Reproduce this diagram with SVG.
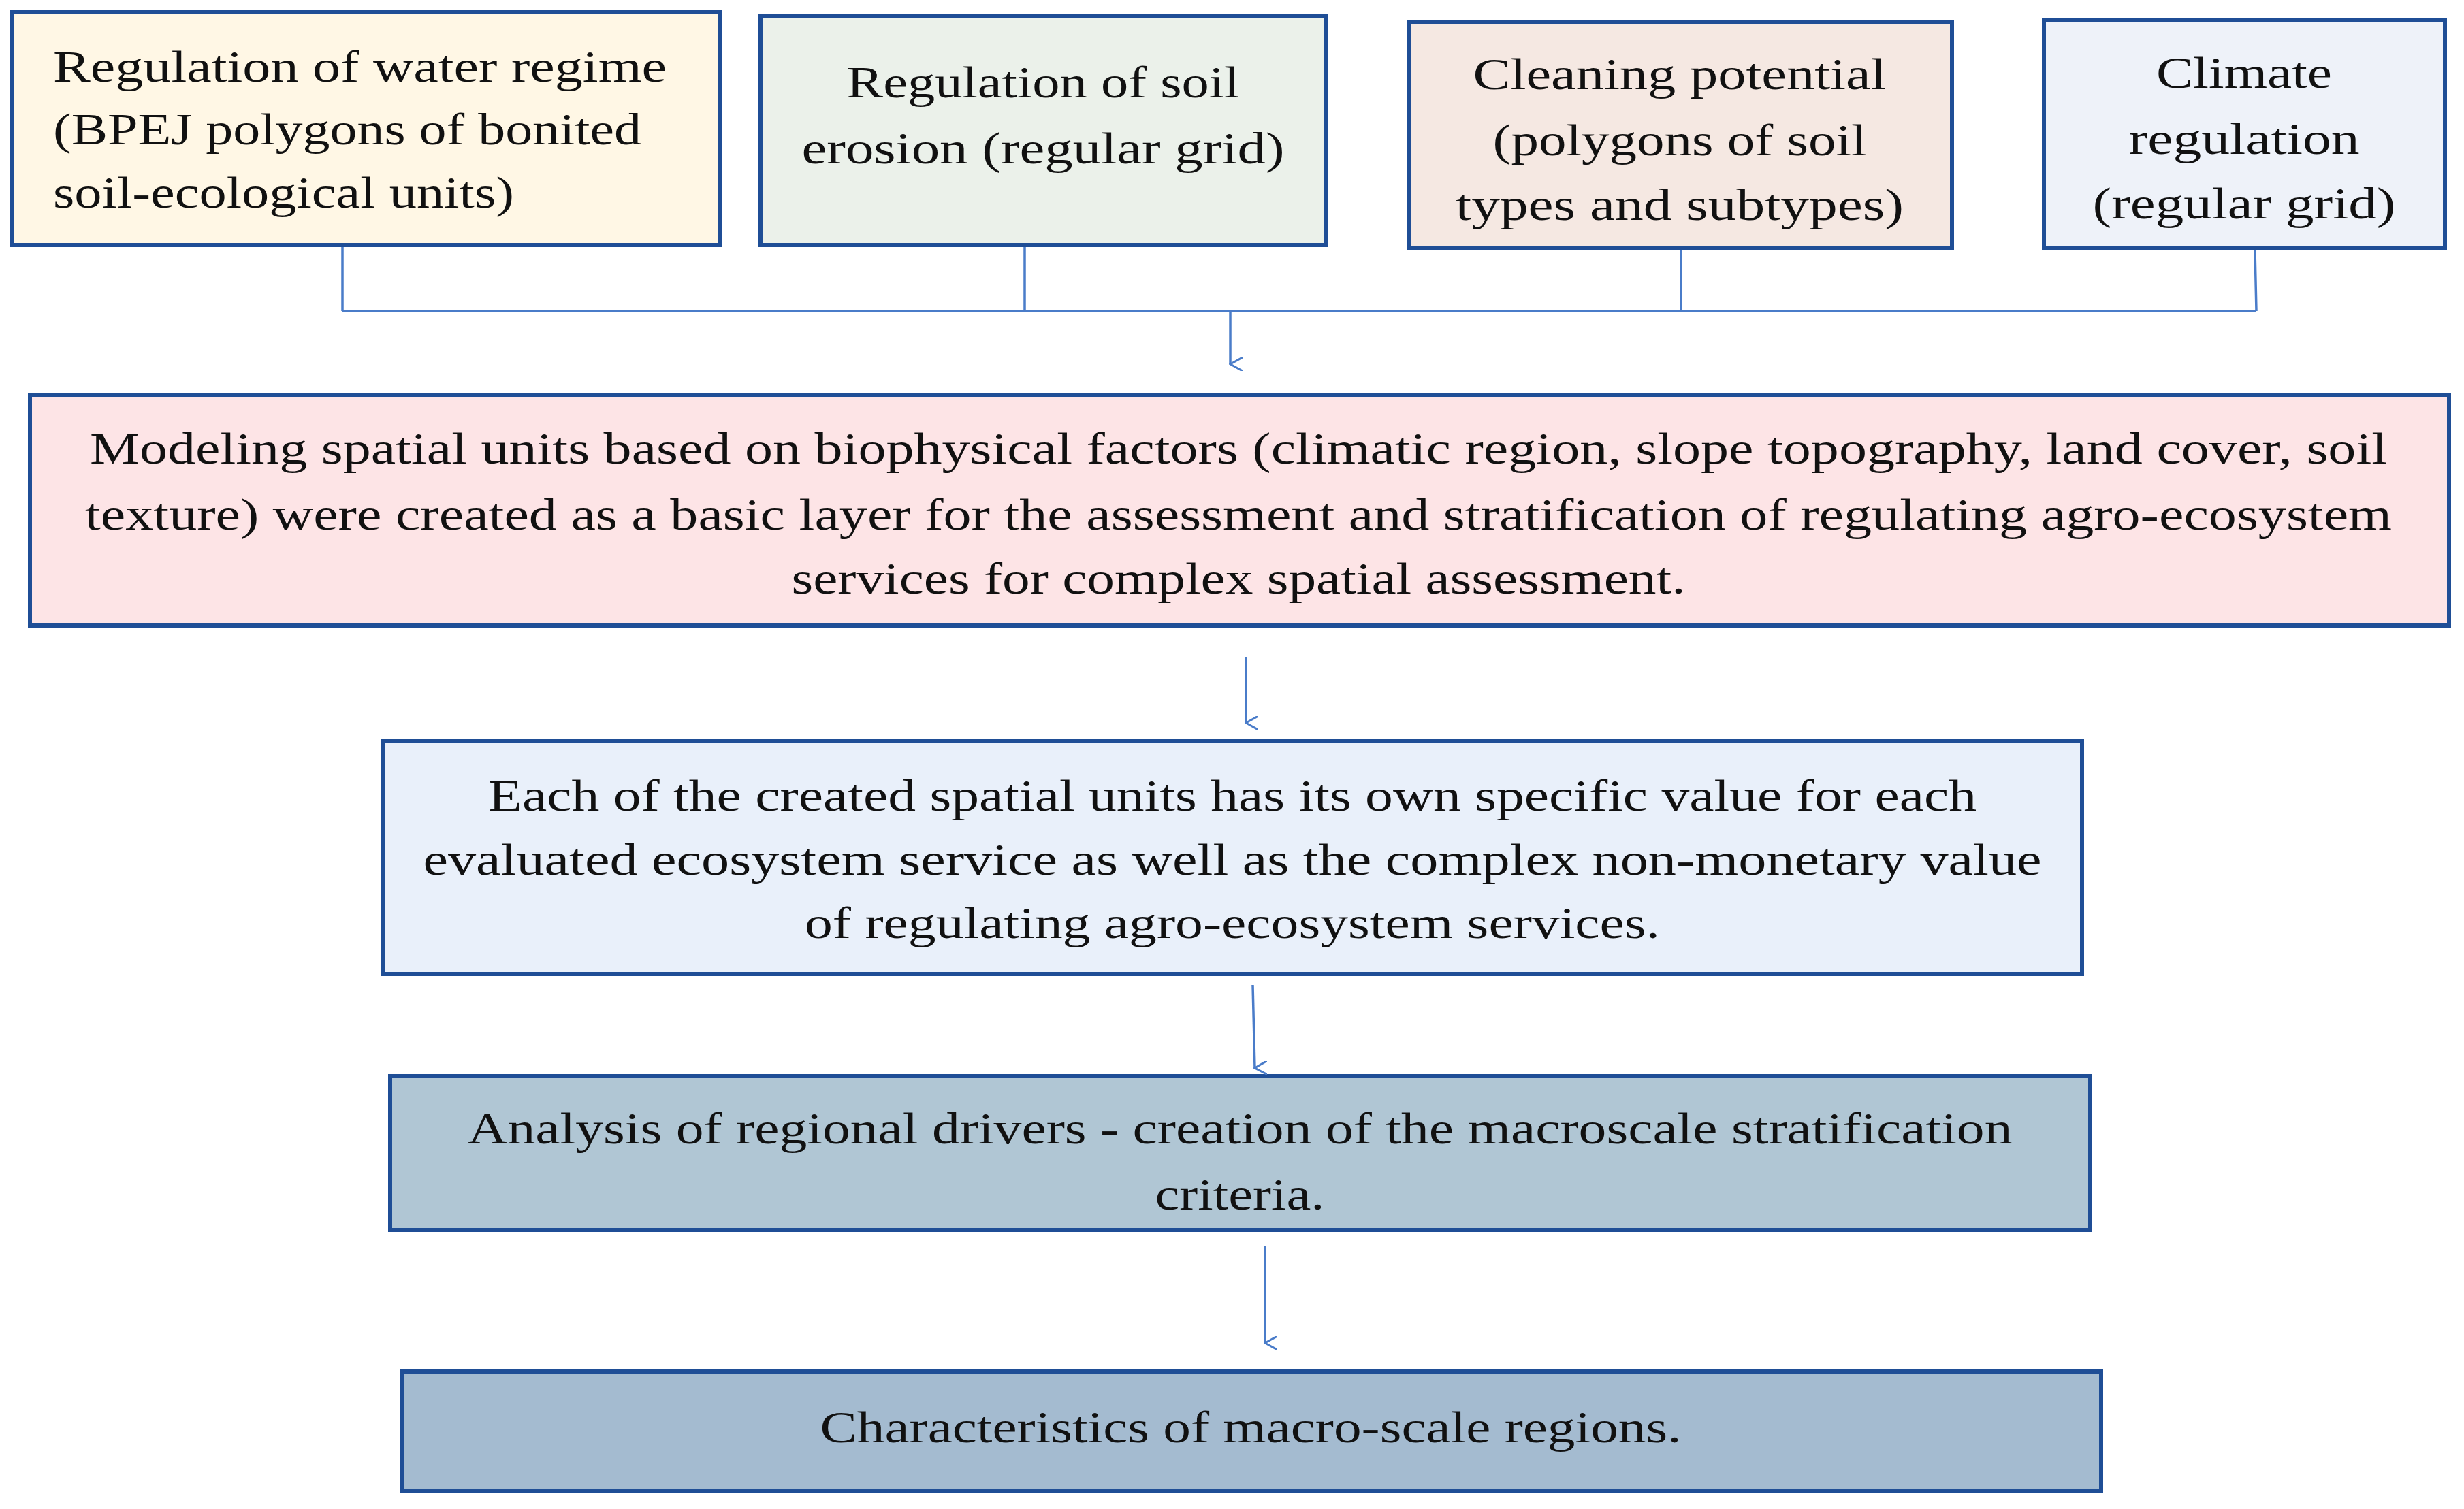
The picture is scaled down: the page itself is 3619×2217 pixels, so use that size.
<svg xmlns="http://www.w3.org/2000/svg" width="3619" height="2217" viewBox="0 0 3619 2217">
<style>
text{font-family:"Liberation Serif","DejaVu Serif",serif;font-size:66px;fill:#111;dominant-baseline:central}
.c{text-anchor:middle}
rect{stroke:#1F4E96;stroke-width:6}
.ln{stroke:#4A7CC9;stroke-width:3.5;fill:none}
</style>
<defs><marker id="a" viewBox="0 0 20 20" refX="10" refY="18" markerWidth="20" markerHeight="20" markerUnits="userSpaceOnUse" orient="auto-start-reverse"><path d="M0,0 L10,18 L20,0" fill="none" stroke="#4A7CC9" stroke-width="3"/></marker></defs>
<rect x="0" y="0" width="3619" height="2217" fill="#fff" style="stroke:none"/>
<g id="n1"><rect x="18" y="18" width="1039" height="342" fill="#FFF7E5"/>
<text x="78" y="97" textLength="901" lengthAdjust="spacingAndGlyphs">Regulation of water regime</text>
<text x="78" y="189" textLength="864" lengthAdjust="spacingAndGlyphs">(BPEJ polygons of bonited</text>
<text x="78" y="282" textLength="677" lengthAdjust="spacingAndGlyphs">soil-ecological units)</text></g>
<g id="n2"><rect x="1117" y="23" width="831" height="337" fill="#EBF1EA"/>
<text class="c" x="1532" y="120" textLength="577" lengthAdjust="spacingAndGlyphs">Regulation of soil</text>
<text class="c" x="1532" y="217" textLength="709" lengthAdjust="spacingAndGlyphs">erosion (regular grid)</text></g>
<g id="n3"><rect x="2070" y="32" width="797" height="333" fill="#F5E8E2"/>
<text class="c" x="2467" y="108" textLength="607" lengthAdjust="spacingAndGlyphs">Cleaning potential</text>
<text class="c" x="2467" y="205" textLength="549" lengthAdjust="spacingAndGlyphs">(polygons of soil</text>
<text class="c" x="2467" y="300" textLength="658" lengthAdjust="spacingAndGlyphs">types and subtypes)</text></g>
<g id="n4"><rect x="3002" y="30" width="589" height="335" fill="#EEF2F9"/>
<text class="c" x="3296" y="106" textLength="258" lengthAdjust="spacingAndGlyphs">Climate</text>
<text class="c" x="3296" y="203" textLength="339" lengthAdjust="spacingAndGlyphs">regulation</text>
<text class="c" x="3296" y="298" textLength="445" lengthAdjust="spacingAndGlyphs">(regular grid)</text></g>
<g id="n5"><rect x="44" y="580" width="3553" height="339" fill="#FDE4E6"/>
<text class="c" x="1819" y="658" textLength="3374" lengthAdjust="spacingAndGlyphs">Modeling spatial units based on biophysical factors (climatic region, slope topography, land cover, soil</text>
<text class="c" x="1819" y="755" textLength="3388" lengthAdjust="spacingAndGlyphs">texture) were created as a basic layer for the assessment and stratification of regulating agro-ecosystem</text>
<text class="c" x="1819" y="849" textLength="1313" lengthAdjust="spacingAndGlyphs">services for complex spatial assessment.</text></g>
<g id="n6"><rect x="563" y="1089" width="2495" height="342" fill="#E9F0FA"/>
<text class="c" x="1810" y="1168" textLength="2186" lengthAdjust="spacingAndGlyphs">Each of the created spatial units has its own specific value for each</text>
<text class="c" x="1810" y="1262" textLength="2377" lengthAdjust="spacingAndGlyphs">evaluated ecosystem service as well as the complex non-monetary value</text>
<text class="c" x="1810" y="1355" textLength="1256" lengthAdjust="spacingAndGlyphs">of regulating agro-ecosystem services.</text></g>
<g id="n7"><rect x="573" y="1581" width="2497" height="226" fill="#B0C6D4"/>
<text class="c" x="1821" y="1657" textLength="2269" lengthAdjust="spacingAndGlyphs">Analysis of regional drivers - creation of the macroscale stratification</text>
<text class="c" x="1821" y="1754" textLength="249" lengthAdjust="spacingAndGlyphs">criteria.</text></g>
<g id="n8"><rect x="591" y="2015" width="2495" height="175" fill="#A4BBD0"/>
<text class="c" x="1837" y="2096" textLength="1265" lengthAdjust="spacingAndGlyphs">Characteristics of macro-scale regions.</text></g>
<g id="connectors">
<path class="ln" d="M503,363 V457 M1505,363 V457 M2469,368 V457 M3312,368 L3314,457 M503,457 H3314"/>
<path class="ln" d="M1807,457 V535" marker-end="url(#a)"/>
<path class="ln" d="M1830,965 V1062" marker-end="url(#a)"/>
<path class="ln" d="M1840,1447 L1843,1569" marker-end="url(#a)"/>
<path class="ln" d="M1858,1830 V1973" marker-end="url(#a)"/>
</g>
</svg>
